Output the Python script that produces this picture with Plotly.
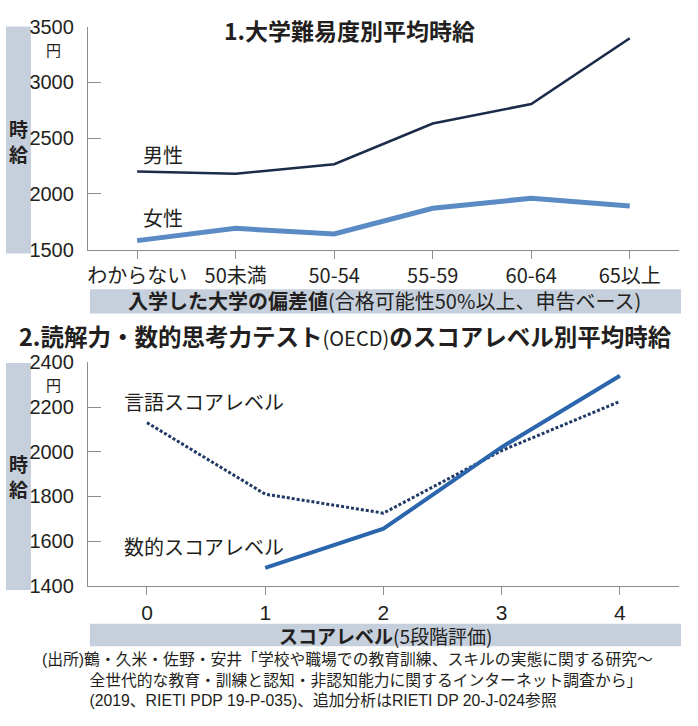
import plotly.graph_objects as go

# ---- data ----
hensachi = ["わからない", "50未満", "50-54", "55-59", "60-64", "65以上"]
men_wage = [2200, 2180, 2265, 2630, 2805, 3395]
women_wage = [1580, 1690, 1640, 1870, 1960, 1890]

score_level = [0, 1, 2, 3, 4]
verbal_wage = [2130, 1810, 1725, 2005, 2225]
numeric_wage = [None, 1480, 1655, 2020, 2340]

source_lines = [
    "(出所)鶴・久米・佐野・安井「学校や職場での教育訓練、スキルの実態に関する研究～",
    "全世代的な教育・訓練と認知・非認知能力に関するインターネット調査から」",
    "(2019、RIETI PDP 19-P-035)、追加分析はRIETI DP 20-J-024参照",
]

W, H = 698, 726
JP = "Noto Sans CJK JP"
LATIN = "Liberation Sans, Arial, Noto Sans CJK JP"
TXT = "#231f20"
BAND = "#c6cfdc"
AXIS = "#8c8c8c"


def px(x):  # pixel -> paper x
    return x / W


def py(y):  # pixel -> paper y (from top)
    return 1 - y / H


fig = go.Figure()

# chart 1
fig.add_trace(go.Scatter(x=hensachi, y=men_wage, mode="lines", xaxis="x", yaxis="y",
                         line=dict(color="#1c2b4a", width=2.6), showlegend=False))
fig.add_trace(go.Scatter(x=hensachi, y=women_wage, mode="lines", xaxis="x", yaxis="y",
                         line=dict(color="#5b8bc4", width=5), showlegend=False))
# chart 2
fig.add_trace(go.Scatter(x=score_level, y=verbal_wage, mode="lines", xaxis="x2", yaxis="y2",
                         line=dict(color="#1f3864", width=3, dash="3px,2px"), showlegend=False))
fig.add_trace(go.Scatter(x=score_level, y=numeric_wage, mode="lines", xaxis="x2", yaxis="y2",
                         line=dict(color="#2b66ad", width=4), showlegend=False))

common_x = dict(showline=True, linecolor=AXIS, linewidth=1, showgrid=False, zeroline=False,
                ticks="outside", ticklen=8, tickcolor=AXIS, tickwidth=1)
common_y = dict(showline=True, linecolor=AXIS, linewidth=1, showgrid=False, zeroline=False,
                ticks="inside", ticklen=13, tickcolor=AXIS, tickwidth=1,
                tickfont=dict(family=LATIN, size=20, color=TXT), ticklabelstandoff=9)

fig.update_layout(
    width=W, height=H,
    margin=dict(l=0, r=0, t=0, b=0),
    paper_bgcolor="white", plot_bgcolor="white",
    font=dict(family=JP, color=TXT),
    xaxis=dict(domain=[px(87), px(679)], anchor="y", type="category",
               range=[-0.5, 5.5], tickfont=dict(family=JP, size=20, color=TXT), **common_x),
    yaxis=dict(domain=[py(246), py(16)], anchor="x", range=[1500, 3500],
               tickvals=[1500, 2000, 2500, 3000, 3500], **common_y),
    xaxis2=dict(domain=[px(87), px(679)], anchor="y2", range=[-0.5, 4.5],
                tickvals=score_level, tickfont=dict(family=LATIN, size=21, color=TXT),
                **common_x),
    yaxis2=dict(domain=[py(592.7), py(362.3)], anchor="x2", range=[1400, 2400],
                tickvals=[1400, 1600, 1800, 2000, 2200, 2400], **common_y),
)

# grey-blue bands (y-axis titles and x-axis titles)
for x0, y0, x1, y1 in [(5, 16, 30, 250), (5, 363, 30, 597),
                       (89, 287, 681, 312), (89, 632, 681, 655)]:
    fig.add_shape(type="rect", xref="paper", yref="paper", layer="below",
                  x0=px(x0), x1=px(x1), y0=py(y1), y1=py(y0),
                  fillcolor=BAND, line=dict(width=0))


def note(text, x, y, size, xanchor="center", family=JP, align="center"):
    fig.add_annotation(text=text, x=px(x), y=py(y), xref="paper", yref="paper",
                       xanchor=xanchor, yanchor="middle", showarrow=False, borderpad=0,
                       align=align, font=dict(family=family, size=size, color=TXT))


# titles
note("<b>1.大学難易度別平均時給</b>", 349, 20, 23)
note("<b>2.読解力・数的思考力テスト</b><span style='font-size:20px'>(OECD)</span>"
     "<b>のスコアレベル別平均時給</b>", 17, 335, 23.5, xanchor="left")

# vertical axis titles and units
note("<b>時<br>給</b>", 17.5, 134, 19)
note("<b>時<br>給</b>", 17.5, 480, 19)
note("円", 53, 40, 15)
note("円", 53, 385, 15)

# series labels
note("男性", 162, 148, 20)
note("女性", 162, 213, 20)
note("言語スコアレベル", 203, 403, 20)
note("数的スコアレベル", 203, 552, 20)

# x-axis titles in bands
note("<b>入学した大学の偏差値</b>(合格可能性50%以上、申告ベース)", 384, 299, 20)
note("<b>スコアレベル</b>(5段階評価)", 385, 644, 19)

# source, one block; the later lines are indented under the (出所) label
indent = "\u3000\u3000\u3000"
note("<br>".join([source_lines[0], indent + source_lines[1], indent + source_lines[2]]),
     40, 690, 15.8, xanchor="left", align="left", family=LATIN)

# the default page has an 8px body margin; drop it so the figure sits at 0,0
fig.write_html("out.html", config={"displayModeBar": False},
               post_script="document.body.style.margin='0';")
